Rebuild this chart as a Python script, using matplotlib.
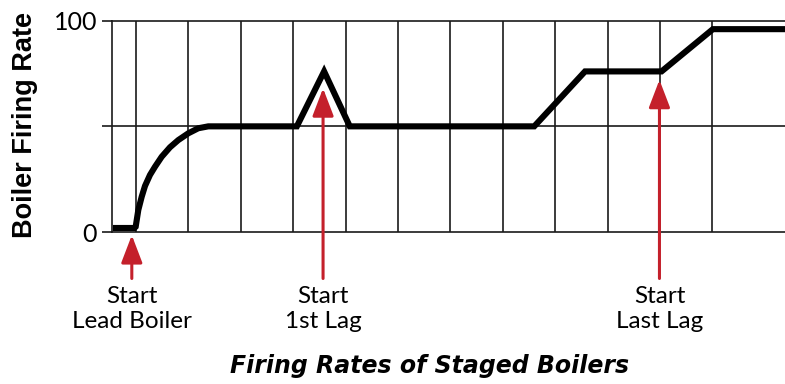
import matplotlib
matplotlib.use("Agg")
import matplotlib.pyplot as plt

# firing-rate trace, x in grid units (gridlines at 1..12), y in % firing rate
time_pts = [0.56, 0.97, 0.994, 1.044, 1.109, 1.172, 1.267, 1.363, 1.490,
            1.649, 1.807, 1.998, 2.189, 2.38, 4.07, 4.59, 5.08, 8.60,
            9.57, 11.03, 12.01, 13.40]
rate_pts = [1.9, 1.9, 2.5, 10.4, 16.7, 21.8, 27.0, 30.9, 35.6,
            40.1, 43.5, 46.7, 49.1, 50.0, 50.0, 76.0, 50.0, 50.0,
            76.0, 76.0, 96.0, 96.0]

# event markers
event_x = [0.92, 4.57, 10.99]
event_tip = [-1.5, 68.0, 72.0]
event_line1 = ["Start", "Start", "Start"]
event_line2 = ["Lead Boiler", "1st Lag", "Last Lag"]

grid_x = list(range(1, 13))
y_ticks = [0, 50, 100]
y_ticklabels = ["0", "", "100"]

W, H = 785, 384
fig = plt.figure(figsize=(W / 100, H / 100), dpi=100)
ax = fig.add_axes([112 / W, (H - 232) / H, 1 - 112 / W, 211.3 / H])

ax.set_xlim(0.542, 13.386)
ax.set_ylim(0, 100)

for gx in grid_x:
    ax.axvline(gx, color="#1a1a1a", lw=1.2, zorder=1)
ax.axhline(50, color="#1a1a1a", lw=1.2, zorder=1)

ax.plot(time_pts, rate_pts, color="black", lw=4.4, solid_joinstyle="miter",
        solid_capstyle="butt", zorder=3)

red = "#c4202b"
for x, tip in zip(event_x, event_tip):
    ax.annotate("", xy=(x, tip), xytext=(x, -22.0), annotation_clip=False,
                arrowprops=dict(arrowstyle="-|>,head_length=1.7,head_width=0.65",
                                mutation_scale=10, color=red, lw=2.2,
                                shrinkA=0, shrinkB=0), zorder=4)

for x, l1, l2 in zip(event_x, event_line1, event_line2):
    ax.text(x, -33.6, l1, ha="center", va="baseline", fontsize=17.5,
            family="Lato", clip_on=False)
    ax.text(x, -45.4, l2, ha="center", va="baseline", fontsize=17.5,
            family="Lato", clip_on=False)

ax.set_xticks(grid_x)
ax.tick_params(axis="x", length=0, labelbottom=False)
ax.set_yticks(y_ticks)
ax.set_yticklabels(y_ticklabels, family="Lato", fontsize=18)
ax.tick_params(axis="y", length=7.2, width=1.2, pad=3.5, color="#1a1a1a")

for side in ["left", "top", "bottom"]:
    ax.spines[side].set_linewidth(1.2)
    ax.spines[side].set_color("#1a1a1a")
ax.spines["right"].set_visible(False)

fig.text(25 / W, (H - 125) / H, "Boiler Firing Rate", rotation=90,
         ha="center", va="center", fontsize=19.5, fontweight="bold",
         family="Liberation Sans")
fig.text(430 / W, (H - 373) / H, "Firing Rates of Staged Boilers",
         ha="center", va="baseline", fontsize=17, fontweight="bold",
         style="italic", family="DejaVu Sans")

fig.savefig("out.png", dpi=100)
